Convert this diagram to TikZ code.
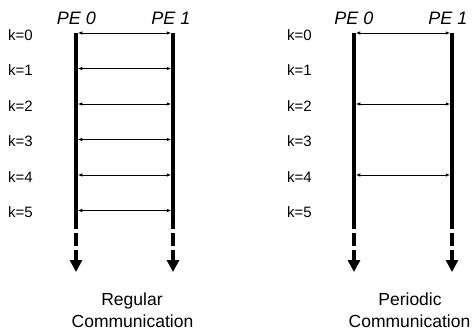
\documentclass[tikz,border=0pt]{standalone}
\usepackage{fontspec}
\setmainfont{Liberation Sans}
\usetikzlibrary{arrows.meta}

\begin{document}
\begin{tikzpicture}[x=1pt,y=-1pt,
  peline/.style={line width=3.5pt},
  pehead/.style={-{Triangle[length=12pt,width=12pt]}},
  msg/.style={line width=0.9pt,{Latex[length=4.5pt,width=3.6pt]}-{Latex[length=4.5pt,width=3.6pt]}},
  klabel/.style={anchor=base west,inner sep=0pt,font=\fontsize{15}{17}\selectfont},
  pelabel/.style={anchor=base,inner sep=0pt,font=\fontsize{18}{20}\selectfont\itshape},
  caption/.style={anchor=base,inner sep=0pt,font=\fontsize{17.5}{21}\selectfont}]
\useasboundingbox (0,0) rectangle (474,333);

% ---------- regular communication ----------
\foreach \n/\x in {A/76,B/173}{
  \coordinate (L\n top) at (\x,33);
  \coordinate (L\n end) at (\x,229);
  \coordinate (L\n da) at (\x,233);
  \coordinate (L\n db) at (\x,246);
  \coordinate (L\n dc) at (\x,250);
  \coordinate (L\n tip) at (\x,272);
  \draw[peline] (L\n top) -- (L\n end);
  \draw[peline] (L\n da) -- (L\n db);
  \draw[peline,pehead] (L\n dc) -- (L\n tip);
}
\node[pelabel] (Lpe0) at (76.5,24) {PE 0};
\node[pelabel] (Lpe1) at (171,24) {PE 1};
\foreach \k in {0,...,5}{
  \pgfmathsetmacro{\yy}{33+35.5*\k}
  \node[klabel] (Lk\k) at (8,\yy+7) {k=\k};
  \coordinate (Ls\k) at (77.75,\yy);
  \coordinate (Lr\k) at (171.25,\yy);
  \draw[msg] (Ls\k) -- (Lr\k);
}
\node[caption] (Lcap1) at (132,305) {Regular};
\node[caption] (Lcap2) at (132.5,327) {Communication};

% ---------- periodic communication ----------
\foreach \n/\x in {A/354,B/452}{
  \coordinate (R\n top) at (\x,33);
  \coordinate (R\n end) at (\x,229);
  \coordinate (R\n da) at (\x,233);
  \coordinate (R\n db) at (\x,246);
  \coordinate (R\n dc) at (\x,250);
  \coordinate (R\n tip) at (\x,272);
  \draw[peline] (R\n top) -- (R\n end);
  \draw[peline] (R\n da) -- (R\n db);
  \draw[peline,pehead] (R\n dc) -- (R\n tip);
}
\node[pelabel] (Rpe0) at (354,24) {PE 0};
\node[pelabel] (Rpe1) at (448,24) {PE 1};
\foreach \k in {0,...,5}{
  \pgfmathsetmacro{\yy}{33+35.5*\k}
  \node[klabel] (Rk\k) at (287,\yy+7) {k=\k};
}
\foreach \k in {0,2,4}{
  \pgfmathsetmacro{\yy}{33+35.5*\k}
  \coordinate (Rs\k) at (355.75,\yy);
  \coordinate (Rr\k) at (450.25,\yy);
  \draw[msg] (Rs\k) -- (Rr\k);
}
\node[caption] (Rcap1) at (410,305) {Periodic};
\node[caption] (Rcap2) at (409.5,327) {Communication};
\end{tikzpicture}
\end{document}
